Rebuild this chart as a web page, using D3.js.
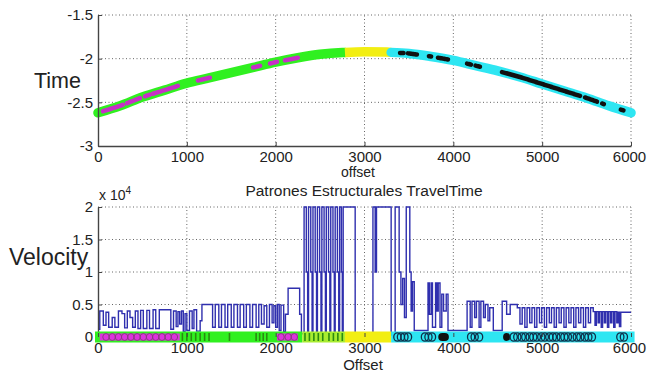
<!DOCTYPE html>
<html>
<head>
<meta charset="utf-8">
<script src="https://cdn.jsdelivr.net/npm/d3@7"></script>
<style>
  body { margin: 0; background: #fff; }
  svg text { font-family: "Liberation Sans", Arial, sans-serif; fill: #222; }
</style>
</head>
<body>
<div id="chart"></div>
<script>
// ---- data ----
const xTicks = [0, 1000, 2000, 3000, 4000, 5000, 6000];
const timeTicks = [-3, -2.5, -2, -1.5];
const velTicks = [0, 5000, 10000, 15000, 20000];

// travel time curve (offset -> time)
const timeOffsets = [0, 250, 500, 750, 1000, 1250, 1500, 1750, 2000, 2250, 2500, 2750, 3000,
  3250, 3500, 3750, 4000, 4250, 4500, 4750, 5000, 5250, 5500, 5750, 6000];
const timeValues = [-2.62, -2.54, -2.44, -2.36, -2.28, -2.22, -2.16, -2.10, -2.04, -1.99, -1.95, -1.93, -1.92,
  -1.925, -1.94, -1.975, -2.02, -2.08, -2.14, -2.21, -2.29, -2.37, -2.45, -2.54, -2.62];

// colour classes along offset
const classRanges = [
  { from: 0, to: 2780, color: "#30f020" },
  { from: 2780, to: 3300, color: "#f2ee12" },
  { from: 3300, to: 6000, color: "#2ee6f2" }
];
const magentaRanges = [[56, 281], [326, 473], [529, 585], [619, 900], [1125, 1260], [1745, 1824], [1936, 2015], [2105, 2250]];
const blackRanges = [[3400, 3440], [3490, 3590], [3725, 3750], [3827, 3940], [4154, 4200], [4250, 4300],
  [4548, 5426], [5482, 5617], [5675, 5695], [5885, 5915]];

// velocity stairs [offset, value]
const velocitySteps = [
  [0, 1200], [20, 4000], [60, 1800], [90, 3800], [120, 1500], [160, 3000], [190, 1500], [230, 4000],
  [270, 3600], [300, 1400], [330, 4000], [360, 3000], [390, 1500], [420, 4000], [450, 1300], [480, 4100],
  [510, 1300], [550, 4100], [580, 1300], [620, 4200], [650, 1300], [690, 4200], [820, 1200], [850, 4000],
  [880, 1600], [900, 3900], [920, 2000], [940, 4000], [960, 800], [980, 3600], [1000, 1000], [1030, 4000],
  [1060, 1300], [1080, 4200], [1110, 900], [1150, 2500], [1170, 5000], [1290, 1500], [1320, 5000],
  [1360, 1500], [1390, 5000], [1430, 1500], [1460, 5000], [1500, 1500], [1530, 5000], [1570, 1500],
  [1600, 5000], [1640, 1500], [1670, 5000], [1710, 1500], [1740, 5000], [1780, 1500], [1810, 5000],
  [1840, 2000], [1870, 4800], [1900, 1500], [1930, 5000], [1960, 2200], [1980, 4800], [2000, 1500],
  [2020, 5000], [2040, 1000], [2060, 4900], [2090, 800], [2110, 3500], [2140, 7500], [2270, 3500],
  [2290, 500], [2320, 20000], [2345, 10000], [2360, 500], [2370, 20000], [2395, 10000], [2410, 800],
  [2420, 20000], [2445, 10000], [2460, 500], [2470, 20000], [2495, 10000], [2510, 800], [2520, 20000],
  [2545, 10000], [2560, 500], [2570, 20000], [2595, 10000], [2610, 800], [2620, 20000], [2645, 10000],
  [2660, 500], [2670, 20000], [2695, 10000], [2710, 800], [2720, 20000], [2740, 10000], [2750, 500],
  [2760, 20000], [2895, 0], [3095, 20000], [3120, 10000], [3135, 20000], [3300, 300], [3345, 20000],
  [3390, 10000], [3410, 5000], [3430, 9000], [3450, 3000], [3470, 20000], [3510, 10000], [3525, 4000],
  [3540, 8500], [3560, 1000], [3590, 1000], [3715, 8300], [3730, 3500], [3750, 8300], [3765, 1500],
  [3800, 8300], [3815, 4000], [3830, 8300], [3850, 1500], [3870, 6600], [3890, 4000], [3920, 6600],
  [3940, 1000], [4155, 5500], [4190, 1500], [4210, 5500], [4240, 3000], [4260, 5500], [4290, 1500],
  [4310, 5500], [4340, 3000], [4360, 5000], [4390, 2500], [4410, 4500], [4450, 1000], [4550, 5500],
  [4600, 3500], [4640, 5000], [4720, 4500], [4750, 2000], [4775, 4500], [4805, 1500], [4830, 4500],
  [4860, 2200], [4885, 4500], [4915, 1500], [4940, 4500], [4970, 2200], [4995, 4500], [5025, 1500],
  [5050, 4500], [5080, 2200], [5105, 4500], [5135, 1500], [5160, 4500], [5190, 2200], [5215, 4500],
  [5245, 1500], [5270, 4500], [5300, 2200], [5325, 4500], [5355, 1500], [5380, 4500], [5410, 2200],
  [5435, 4500], [5465, 1500], [5490, 4500], [5520, 2200], [5545, 4500], [5575, 3900], [5595, 1800],
  [5610, 3900], [5630, 2200], [5645, 3900], [5665, 1500], [5680, 3900], [5700, 2200], [5715, 3900],
  [5735, 1500], [5750, 3900], [5770, 2200], [5785, 3900], [5805, 1500], [5820, 3900], [5840, 2200],
  [5855, 3800], [5870, 1600], [5885, 3800], [6000, 3800]
];

// strip along velocity = 0
const stripRanges = [
  { from: 0, to: 2300, color: "#30f020" },
  { from: 2300, to: 2780, color: "#a8ec30" },
  { from: 2780, to: 3300, color: "#f2ee12" },
  { from: 3300, to: 6040, color: "#2ee6f2" }
];
const stripMagenta = [[20, 920], [2015, 2250]];
const stripGreenMarks = [950, 1000, 1050, 1100, 1150, 1200, 1250, 1480, 1780, 1820, 1860, 1900,
  2330, 2380, 2430, 2480, 2530, 2600, 2650, 2700, 2750];
const stripMagentaCircles = [90, 160, 230, 300, 370, 440, 510, 580, 650, 720, 790, 860, 2060, 2140, 2210];
const stripBlackBlobs = [[3830, 3950], [4560, 4640]];
const stripCyanCircles = [3370, 3410, 3450, 3490, 3680, 3720, 3760, 4200, 4240, 4290, 4680, 4720, 4770,
  4810, 4860, 4900, 4940, 4990, 5030, 5080, 5120, 5160, 5210, 5250, 5290, 5340, 5390, 5430, 5480, 5520,
  5560, 5880, 5920];

// ---- drawing ----
const W = 647, H = 377;
const svg = d3.select("#chart").append("svg").attr("width", W).attr("height", H);

const x = d3.scaleLinear().domain([0, 6000]).range([98, 631]);
const yT = d3.scaleLinear().domain([-3, -1.5]).range([146, 15]);
const yB = d3.scaleLinear().domain([0, 20000]).range([337, 207]);

// piecewise-linear lookup on the time curve
const timeAt = d3.scaleLinear().domain(timeOffsets).range(timeValues);

function grid(y, yTicks) {
  const g = svg.append("g")
    .attr("stroke", "#666")
    .attr("stroke-width", 1)
    .attr("stroke-dasharray", "1,2.5");
  xTicks.filter(t => t > 0).forEach(t => {
    g.append("line").attr("x1", x(t)).attr("x2", x(t))
      .attr("y1", y.range()[0]).attr("y2", y.range()[1]);
  });
  yTicks.slice(1).forEach(t => {
    g.append("line").attr("x1", x(0)).attr("x2", x(6000))
      .attr("y1", y(t)).attr("y2", y(t));
  });
}

function axes(y, yTicks, yFmt) {
  const xa = svg.append("g")
    .attr("transform", `translate(0,${y.range()[0]})`)
    .call(d3.axisBottom(x).tickValues(xTicks).tickSizeInner(-4).tickSizeOuter(0).tickPadding(5)
      .tickFormat(d => String(d)));
  const ya = svg.append("g")
    .attr("transform", `translate(${x(0)},0)`)
    .call(d3.axisLeft(y).tickValues(yTicks).tickSizeInner(-4).tickSizeOuter(0).tickPadding(5).tickFormat(yFmt));
  [xa, ya].forEach(a => {
    a.select(".domain").attr("stroke", "#444").attr("stroke-width", 1.4);
    a.selectAll(".tick line").attr("stroke", "#444");
    a.selectAll(".tick text").attr("font-size", 15).attr("fill", "#222")
      .attr("font-family", '"Liberation Sans", Arial, sans-serif');
  });
  // last label sits right at the edge, nudge it in
  xa.selectAll(".tick text").filter(d => d === 6000).attr("dx", -2);
  return [xa, ya];
}

// top plot
grid(yT, timeTicks);

const lineT = d3.line().x(d => x(d[0])).y(d => yT(d[1]));
function curvePart(from, to) {
  const pts = [[from, timeAt(from)]];
  timeOffsets.forEach(o => { if (o > from && o < to) pts.push([o, timeAt(o)]); });
  pts.push([to, timeAt(to)]);
  return pts;
}
function samplePart(from, to) {
  const pts = [];
  for (let o = from; o < to; o += 10) pts.push([o, timeAt(o)]);
  pts.push([to, timeAt(to)]);
  return pts;
}

classRanges.forEach(r => {
  svg.append("path")
    .attr("d", lineT.curve(d3.curveMonotoneX)(curvePart(r.from, r.to)))
    .attr("fill", "none")
    .attr("stroke", r.color)
    .attr("stroke-width", 9.5)
    .attr("stroke-linecap", r.from === 0 || r.to === 6000 ? "round" : "butt");
});
magentaRanges.forEach(r => {
  svg.append("path")
    .attr("d", lineT.curve(d3.curveLinear)(samplePart(r[0], r[1])))
    .attr("fill", "none")
    .attr("stroke", "#c72fc7")
    .attr("stroke-width", 4.5)
    .attr("stroke-linecap", "round");
});
blackRanges.forEach(r => {
  svg.append("path")
    .attr("d", lineT.curve(d3.curveLinear)(samplePart(r[0], r[1])))
    .attr("fill", "none")
    .attr("stroke", "#111")
    .attr("stroke-width", 4.5)
    .attr("stroke-linecap", "round");
});

axes(yT, timeTicks, d => String(d));

svg.append("text").attr("x", 34).attr("y", 88).attr("font-size", 21.5).text("Time");
svg.append("text").attr("x", 358).attr("y", 177).attr("font-size", 14)
  .attr("text-anchor", "middle").text("offset");

// bottom plot
grid(yB, velTicks);

svg.append("path")
  .datum(velocitySteps)
  .attr("d", d3.line().x(d => x(d[0])).y(d => yB(d[1])).curve(d3.curveStepAfter))
  .attr("fill", "none")
  .attr("stroke", "#2f2fae")
  .attr("stroke-width", 1.4);

const [xaB] = axes(yB, velTicks, d => String(d / 10000));

// class strip on the zero line
const y0 = yB(0);
stripRanges.forEach(r => {
  svg.append("rect")
    .attr("x", x(r.from) - (r.from === 0 ? 3 : 0))
    .attr("y", y0 - 5.5)
    .attr("width", x(r.to) - x(r.from) + (r.from === 0 ? 3 : 0))
    .attr("height", 11)
    .attr("fill", r.color);
});
stripMagenta.forEach(r => {
  svg.append("rect")
    .attr("x", x(r[0])).attr("y", y0 - 3.5)
    .attr("width", x(r[1]) - x(r[0])).attr("height", 7)
    .attr("fill", "#dd33dd");
});
svg.append("g").selectAll("line")
  .data(stripGreenMarks)
  .join("line")
  .attr("x1", d => x(d)).attr("x2", d => x(d))
  .attr("y1", y0 - 4).attr("y2", y0 + 4)
  .attr("stroke", "#2a8a10").attr("stroke-width", 1.6);
svg.append("g").selectAll("ellipse")
  .data(stripMagentaCircles)
  .join("ellipse")
  .attr("cx", d => x(d)).attr("cy", y0)
  .attr("rx", 3.2).attr("ry", 3.5)
  .attr("fill", "none").attr("stroke", "#8a3a80").attr("stroke-width", 1);
stripBlackBlobs.forEach(r => {
  svg.append("rect")
    .attr("x", x(r[0])).attr("y", y0 - 4)
    .attr("width", x(r[1]) - x(r[0])).attr("height", 8)
    .attr("rx", 4).attr("fill", "#111");
});
svg.append("g").selectAll("ellipse")
  .data(stripCyanCircles)
  .join("ellipse")
  .attr("cx", d => x(d)).attr("cy", y0)
  .attr("rx", 3.6).attr("ry", 4.2)
  .attr("fill", "none").attr("stroke", "#10304a").attr("stroke-width", 1.3);

// keep tick labels above the strip
xaB.raise();
xaB.select(".domain").attr("stroke", "none");

svg.append("text").attr("x", 364).attr("y", 196).attr("font-size", 15.5)
  .attr("text-anchor", "middle").text("Patrones Estructurales TravelTime");
const t10 = svg.append("text").attr("x", 99).attr("y", 200).attr("font-size", 14);
t10.append("tspan").text("x 10");
t10.append("tspan").attr("dy", -6).attr("font-size", 10).text("4");
svg.append("text").attr("x", 9).attr("y", 265).attr("font-size", 23).text("Velocity");
svg.append("text").attr("x", 363).attr("y", 370).attr("font-size", 15)
  .attr("text-anchor", "middle").text("Offset");
</script>
</body>
</html>
